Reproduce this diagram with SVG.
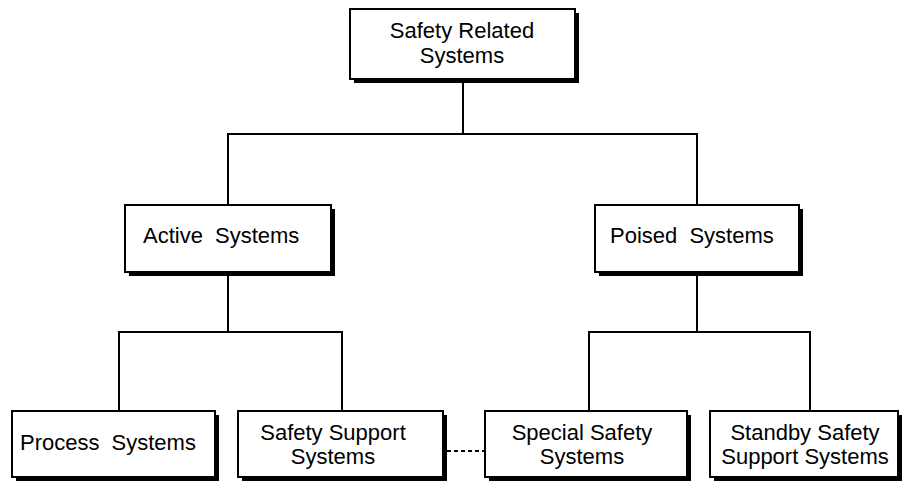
<svg xmlns="http://www.w3.org/2000/svg" width="904" height="483" viewBox="0 0 904 483">
<style>
.shadow{fill:#000}
.box{fill:#fff;stroke:#000;stroke-width:2}
.lbl{font-family:"Liberation Sans",Arial,sans-serif;font-size:22px;fill:#000}
.mid{text-anchor:middle}
.wide{word-spacing:6px}
.conn{fill:none;stroke:#000;stroke-width:2}
.dot{fill:none;stroke:#000;stroke-width:2;stroke-dasharray:4 3}
</style>
<rect width="904" height="483" fill="#fff"/>
<g id="connectors">
<polyline class="conn" points="463,83 463,134"/>
<polyline class="conn" points="228,205 228,134 697,134 697,205"/>
<polyline class="conn" points="228,276 228,332"/>
<polyline class="conn" points="119,411 119,332 342,332 342,411"/>
<polyline class="conn" points="697,276 697,332"/>
<polyline class="conn" points="589,411 589,332 810,332 810,411"/>
<line class="dot" x1="447" y1="451" x2="485" y2="451"/>
</g>
<g id="safety-related">
<rect class="shadow" x="354" y="13" width="225" height="70"/>
<rect class="box" x="350" y="9" width="225" height="70"/>
<text class="lbl mid" x="462" y="38">Safety Related</text>
<text class="lbl mid" x="462" y="63">Systems</text>
</g>
<g id="active">
<rect class="shadow" x="129" y="209" width="206" height="67"/>
<rect class="box" x="125" y="205" width="206" height="67"/>
<text class="lbl wide" x="143" y="243">Active Systems</text>
</g>
<g id="poised">
<rect class="shadow" x="599" y="209" width="204" height="67"/>
<rect class="box" x="595" y="205" width="204" height="67"/>
<text class="lbl wide" x="610" y="243">Poised Systems</text>
</g>
<g id="process">
<rect class="shadow" x="16" y="415" width="203" height="66"/>
<rect class="box" x="12" y="411" width="203" height="66"/>
<text class="lbl wide" x="20" y="450">Process Systems</text>
</g>
<g id="safety-support">
<rect class="shadow" x="242" y="415" width="205" height="66"/>
<rect class="box" x="238" y="411" width="205" height="66"/>
<text class="lbl mid" x="333" y="440">Safety Support</text>
<text class="lbl mid" x="333" y="464">Systems</text>
</g>
<g id="special-safety">
<rect class="shadow" x="489" y="415" width="202" height="66"/>
<rect class="box" x="485" y="411" width="202" height="66"/>
<text class="lbl mid" x="582" y="440">Special Safety</text>
<text class="lbl mid" x="582" y="464">Systems</text>
</g>
<g id="standby-safety">
<rect class="shadow" x="714" y="415" width="188" height="66"/>
<rect class="box" x="710" y="411" width="188" height="66"/>
<text class="lbl mid" x="805" y="440">Standby Safety</text>
<text class="lbl mid" x="805" y="464">Support Systems</text>
</g>
</svg>
